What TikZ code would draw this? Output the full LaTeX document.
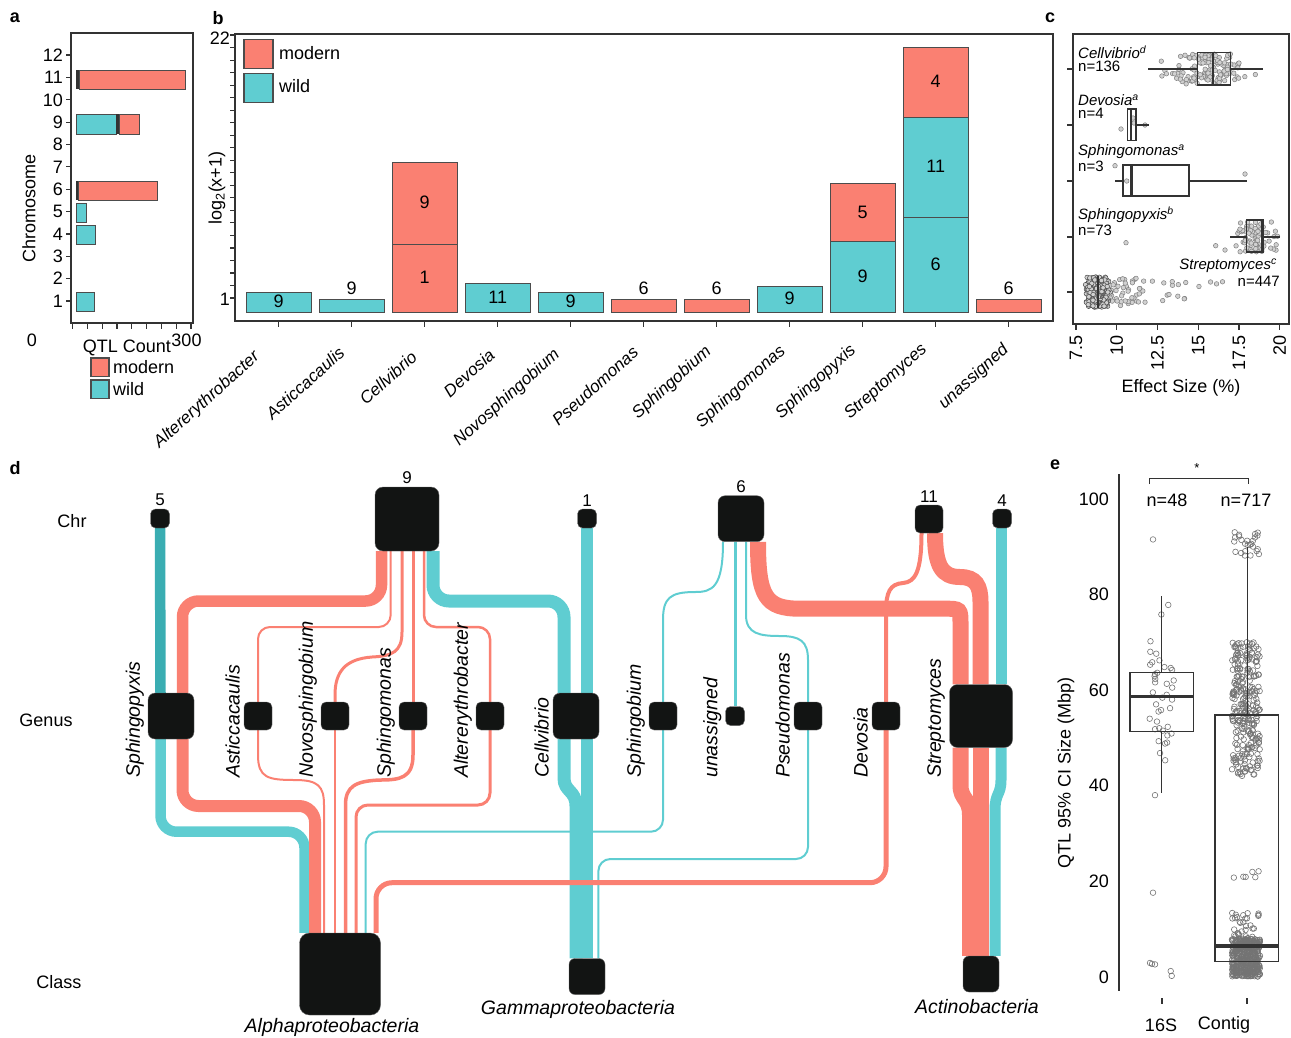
\documentclass[tikz,border=0pt]{standalone}
\usepackage{fontspec}
\setmainfont{Liberation Sans}
\usetikzlibrary{positioning}

\definecolor{modern}{HTML}{FA8072}
\definecolor{wild}{HTML}{5FCDD1}
\definecolor{wilddark}{HTML}{3AADB2}
\definecolor{nodeblk}{HTML}{121413}
\definecolor{axgrey}{HTML}{333333}

\pgfdeclarelayer{flows}
\pgfsetlayers{flows,main}

\tikzset{
  every node/.style={inner sep=0pt, font=\fontsize{18}{21}\selectfont},
  panel/.style={font=\fontsize{18}{21}\selectfont\bfseries},
  axframe/.style={draw=axgrey, line width=1.6pt},
  axtick/.style={draw=axgrey, line width=1.2pt},
  modernbar/.style={fill=modern, draw=black!70, line width=0.8pt},
  wildbar/.style={fill=wild, draw=black!70, line width=0.8pt},
  taxon/.style={fill=nodeblk, draw=black!60, line width=0.4pt, rounded corners=5pt, minimum size=#1},
  mflow/.style={draw=modern, line width=#1, rounded corners=16pt},
  wflow/.style={draw=wild, line width=#1, rounded corners=16pt},
  genus/.style={rotate=90, anchor=south west, font=\fontsize{19.5}{22}\selectfont\itshape},
  taxlbl/.style={font=\fontsize{19.5}{22}\selectfont\itshape},
  chrlbl/.style={font=\fontsize{17}{20}\selectfont},
  barlbl/.style={rotate=42, font=\fontsize{17}{20}\selectfont\itshape},
  clbl/.style={font=\fontsize{15}{17}\selectfont},
  cdot/.style={draw=black!50, fill=black!18, line width=0.5pt},
  edot/.style={draw=black!55, line width=0.6pt},
  cbox/.style={draw=axgrey, line width=1.3pt},
}

\begin{document}
\begin{tikzpicture}[x=1pt, y=-1pt]
\useasboundingbox (0,0) rectangle (1291,1037);

%% a: QTL count per chromosome
\node[panel] (pa) at (15,18) {a};
\draw[modernbar] (79,70) rectangle (185,89);
\fill[black!80] (76,70) rectangle (79,89);
\draw[wildbar] (76,114) rectangle (116,134);
\fill[black!80] (116,114) rectangle (119,134);
\draw[modernbar] (119,114) rectangle (139,134);
\fill[black!80] (76,181) rectangle (78,200);
\draw[modernbar] (78,181) rectangle (157,200);
\draw[wildbar] (76,203) rectangle (86,222);
\draw[wildbar] (76,225) rectangle (95,244);
\draw[wildbar] (76,292) rectangle (94,311);
\draw[axframe] (71,33) rectangle (193,323);
\foreach \c in {1,...,12} {
  \draw[axtick] (66,{323.4-22.36*\c}) -- (71,{323.4-22.36*\c});
  \node[anchor=east] (ya\c) at (63,{323.4-22.36*\c}) {\c};
}
\foreach \i in {0,...,8}
  \draw[axtick] ({72.5+14.8*\i},323) -- ({72.5+14.8*\i},329);
\node (xa0) at (32,340) {0};
\node (xa300) at (186.5,340) {300};
\node[rotate=90] (ylaba) at (29,208) {Chromosome};
\node (xlaba) at (127,348) {QTL Count};
\draw[modernbar, line width=1.2pt] (91,358) rectangle (109,376.5);
\node[anchor=west] (lgam) at (113,367.5) {modern};
\draw[wildbar, line width=1.2pt] (91,380) rectangle (109,398.5);
\node[anchor=west] (lgaw) at (113,389.5) {wild};

%% b: QTL per genus
\node[panel] (pb) at (218,18) {b};
\foreach \i/\ya/\yb/\s in {0/292/312/wildbar, 1/299/312/wildbar, 2/244/312/modernbar, 2/162/244/modernbar,
    3/283/312/wildbar, 4/292/312/wildbar, 5/299/312/modernbar, 6/299/312/modernbar, 7/286.7/312/wildbar,
    8/241/312/wildbar, 8/183/241/modernbar, 9/217/312/wildbar, 9/117/217/wildbar, 9/47/117/modernbar,
    10/299/312/modernbar}
  \draw[\s] ({246+73*\i},\ya) rectangle ({311.5+73*\i},\yb);
\foreach \i/\y/\t in {0/301/9, 1/288/9, 2/277/1, 2/202/9, 3/297/11, 4/301/9, 5/288/6, 6/288/6,
    7/298/9, 8/276/9, 8/212/5, 9/264/6, 9/166/11, 9/81/4, 10/288/6}
  \node (bv\i-\y) at ({278.7+73*\i},\y) {\t};
\draw[axframe] (235,34) rectangle (1053,321);
\foreach \v in {1,...,22}
  \draw[axtick] (230,{310.5-12.52*\v}) -- (235,{310.5-12.52*\v});
\foreach \i in {0,...,10}
  \draw[axtick] ({278.7+73*\i},321) -- ({278.7+73*\i},327);
\node[anchor=east] (yb22) at (230,38) {22};
\node[anchor=east] (yb1) at (230,299) {1};
\node[rotate=90] (ylabb) at (217,188) {log\textsubscript{2}(x+1)};
\draw[modernbar, line width=1.2pt] (244,39.5) rectangle (273,68.5);
\node[anchor=west] (lgbm) at (279,53) {modern};
\draw[wildbar, line width=1.2pt] (244,73.5) rectangle (273,102.5);
\node[anchor=west] (lgbw) at (279,86) {wild};
\foreach \g/\cx/\cy [count=\k] in {Altererythrobacter/207/400, Asticcacaulis/305/383, Cellvibrio/388/378,
    Devosia/469/373, Novosphingobium/507/398, Pseudomonas/595/386, Sphingobium/672/383,
    Sphingomonas/741/387, Sphingopyxis/816/382, Streptomyces/886/382, unassigned/974/377}
  \node[barlbl] (bx\k) at (\cx,\cy) {\g};

%% c: effect size per genus
\node[panel] (pc) at (1050,18) {c};
\pgfmathsetseed{11}
\foreach \k in {1,...,136} {
  \pgfmathsetmacro\px{1207+18*(rand+rand+rand)}
  \pgfmathsetmacro\py{69+15*rand}
  \draw[cdot] (\px,\py) circle (2.3pt);
}
\foreach \px/\py in {1121/129, 1133/118, 1134/123, 1145/125, 1115/165.7, 1126.7/181, 1245/174,
    1126/242.7, 1215.7/245.7, 1225/250}
  \draw[cdot] (\px,\py) circle (2.3pt);
\foreach \k in {1,...,70} {
  \pgfmathsetmacro\px{1256+12.5*(rand+rand)}
  \pgfmathsetmacro\py{237+15*rand}
  \draw[cdot] (\px,\py) circle (2.3pt);
}
\foreach \k in {1,...,62} {
  \pgfmathsetmacro\px{1110+140*rnd*rnd}
  \pgfmathsetmacro\py{292+14*rand}
  \draw[cdot] (\px,\py) circle (2.3pt);
}
\foreach \k in {1,...,385} {
  \pgfmathsetmacro\px{1097+5*(rand+rand)+5*rand}
  \pgfmathsetmacro\py{292+15*rand}
  \draw[cdot, draw=black!70] (\px,\py) circle (2.3pt);
}
\draw[cbox] (1148,69) -- (1197.7,69) (1230.7,69) -- (1262.7,69);
\draw[cbox] (1197.7,52.7) rectangle (1230.7,85);
\draw[axgrey, line width=2.6pt] (1213,52.7) -- (1213,85);
\draw[cbox] (1127.7,109) rectangle (1136,140.7) (1136,125) -- (1148.7,125);
\draw[axgrey, line width=2.6pt] (1131,109) -- (1131,140.7);
\draw[cbox] (1115,181) -- (1123,181) (1189,181) -- (1246.7,181);
\draw[cbox] (1123,165) rectangle (1189,196);
\draw[axgrey, line width=2.6pt] (1131.7,165) -- (1131.7,196);
\draw[cbox] (1230,237) -- (1246.7,237) (1263,237) -- (1280,237);
\draw[cbox] (1246.7,220) rectangle (1263,252);
\draw[axgrey, line width=2.6pt] (1262,220) -- (1262,252);
\draw[axgrey, line width=2.6pt] (1098,276) -- (1098,308);
\draw[axframe] (1073,34) rectangle (1289,324);
\foreach \y in {69,125,181,237,292}
  \draw[axtick] (1067,\y) -- (1073,\y);
\foreach \v/\t [count=\k] in {7.5/7.5, 10/10, 12.5/12.5, 15/15, 17.5/17.5, 20/20} {
  \draw[axtick] ({1076+16.3*(\v-7.5)},324) -- ({1076+16.3*(\v-7.5)},330);
  \node[rotate=90, anchor=east] (cx\k) at ({1076+16.3*(\v-7.5)},335) {\t};
}
\node (xlabc) at (1181,388) {Effect Size (\%)};
\node[clbl, anchor=west] (cCel) at (1078,52) {\textit{Cellvibrio}\textsuperscript{\textit{d}}};
\node[clbl, anchor=west] (nCel) at (1078,66.5) {n=136};
\node[clbl, anchor=west] (cDev) at (1078,100) {\textit{Devosia}\textsuperscript{\textit{a}}};
\node[clbl, anchor=west] (nDev) at (1078,113.5) {n=4};
\node[clbl, anchor=west] (cSpm) at (1078,152) {\textit{Sphingomonas}\textsuperscript{\textit{a}}};
\node[clbl, anchor=west] (nSpm) at (1078,166.5) {n=3};
\node[clbl, anchor=west] (cSpx) at (1078,215) {\textit{Sphingopyxis}\textsuperscript{\textit{b}}};
\node[clbl, anchor=west] (nSpx) at (1078,230.5) {n=73};
\node[clbl, anchor=east] (cStr) at (1277,266) {\textit{Streptomyces}\textsuperscript{\textit{c}}};
\node[clbl, anchor=east] (nStr) at (1280,281.5) {n=447};

%% d: chromosome -> genus -> class
\node[panel] (pd) at (15,468) {d};
\node (dchr) at (72,521) {Chr};
\node (dgen) at (46,720) {Genus};
\node (dcls) at (59,982) {Class};
% chromosomes
\node[taxon=19pt] (chr5) at (160,518.5) {};
\node[taxon=64pt, rounded corners=8pt] (chr9) at (407,519) {};
\node[taxon=19pt] (chr1) at (587,518.5) {};
\node[taxon=46pt, rounded corners=7pt] (chr6) at (741,518.7) {};
\node[taxon=28pt] (chr11) at (929,519) {};
\node[taxon=19pt] (chr4) at (1002,518.5) {};
\foreach \c in {5,9,1,6,11,4}
  \node[chrlbl, above=2.5pt of chr\c] (n\c) {\c};
% genera
\node[taxon=46pt, rounded corners=7pt] (gSpx) at (171,716) {};
\node[taxon=28pt] (gAst) at (258,716) {};
\node[taxon=28pt] (gNov) at (335,716) {};
\node[taxon=28pt] (gSpm) at (413,716) {};
\node[taxon=28pt] (gAlt) at (490,716) {};
\node[taxon=46pt, rounded corners=7pt] (gCel) at (576,716) {};
\node[taxon=28pt] (gSpb) at (663,716) {};
\node[taxon=19pt] (gUna) at (735,716) {};
\node[taxon=28pt] (gPse) at (808,716) {};
\node[taxon=28pt] (gDev) at (886,716) {};
\node[taxon=63pt, rounded corners=8pt] (gStr) at (981,716) {};
\foreach \g/\gx in {Sphingopyxis/144, Asticcacaulis/240, Novosphingobium/317, Sphingomonas/395,
    Altererythrobacter/472, Cellvibrio/549, Sphingobium/645, unassigned/721.5, Pseudomonas/790,
    Devosia/868, Streptomyces/945}
  \node[genus] (t\g) at (\gx,778) {\g};
% classes
\node[taxon=81pt, minimum height=82pt, rounded corners=10pt] (cAlp) at (340,974) {};
\node[taxon=36pt, rounded corners=6pt] (cGam) at (587,976.5) {};
\node[taxon=36pt, rounded corners=6pt] (cAct) at (981,974) {};
\node[taxlbl] (lAlp) at (332,1027) {Alphaproteobacteria};
\node[taxlbl] (lGam) at (578,1009) {Gammaproteobacteria};
\node[taxlbl] (lAct) at (977,1007) {Actinobacteria};

\begin{pgfonlayer}{flows}
% chromosome to genus
\draw[wflow=10.5pt, draw=wilddark] (chr5.south) -- ([xshift=-10.5pt]gSpx.north);
\draw[mflow=11.5pt] ([xshift=-25.5pt]chr9.south) |- (182.5,601) -- ([xshift=11.5pt]gSpx.north);
\draw[mflow=2pt, rounded corners=12pt] ([xshift=-16.3pt]chr9.south) |- (258,627) -- (gAst.north);
\draw[mflow=3pt, sharp corners] ([xshift=-5pt]chr9.south) -- (402,632) .. controls (402,652) and (392,656) .. (372,657)
  .. controls (345,659) and (335,672) .. (335,695) -- (gNov.north);
\draw[mflow=3pt] ([xshift=6pt]chr9.south) -- (gSpm.north);
\draw[mflow=2.5pt, rounded corners=12pt] ([xshift=17pt]chr9.south) |- (490,627) -- (gAlt.north);
\draw[wflow=13pt] ([xshift=26pt]chr9.south) |- (564,601) -- ([xshift=-12pt]gCel.north);
\draw[wflow=12pt] ([xshift=-0.5pt]chr1.south) -- ([xshift=10.5pt]gCel.north);
\draw[wflow=2pt, sharp corners] ([xshift=-18pt]chr6.south) .. controls (723,588) and (712,592) .. (695,592)
  .. controls (670,592) and (663,598) .. (663,620) -- (gSpb.north);
\draw[wflow=3pt] ([xshift=-6pt]chr6.south) -- (gUna.north);
\draw[wflow=2pt, sharp corners] ([xshift=5pt]chr6.south) -- (746,615) .. controls (746,634) and (760,636) .. (780,636)
  .. controls (800,636) and (808,641) .. (808,660) -- (gPse.north);
\draw[mflow=16pt, sharp corners] ([xshift=17pt]chr6.south) .. controls (758,596) and (765,608.7) .. (800,608.7)
  -- (944.5,608.7) .. controls (960.5,608.7) .. (960.5,624.7) -- ([xshift=-20.5pt]gStr.north);
\draw[mflow=4pt, sharp corners] ([xshift=-7.5pt]chr11.south) .. controls (921.5,572) and (915,582) .. (903,583)
  .. controls (890,584) and (886,592) .. (886,612) -- (gDev.north);
\draw[mflow=16pt, sharp corners] ([xshift=6pt]chr11.south) .. controls (935,566) and (942,577) .. (960,577)
  .. controls (976,577) and (980.5,586) .. (980.5,602) -- ([xshift=-0.5pt]gStr.north);
\draw[wflow=11pt] ([xshift=-1pt]chr4.south) -- ([xshift=20pt]gStr.north);
% genus to class
\draw[wflow=10.5pt] ([xshift=-10.5pt]gSpx.south) |- (304.5,831.7) -- ([xshift=-35.5pt]cAlp.north);
\draw[mflow=12pt] ([xshift=11.5pt]gSpx.south) |- (315,806) -- ([xshift=-25pt]cAlp.north);
\draw[mflow=2pt, sharp corners] (gAst.south) -- (258,755) .. controls (258,778) and (268,780) .. (295,780)
  .. controls (318,780) and (324,786) .. (324,805) -- ([xshift=-16pt]cAlp.north);
\draw[mflow=2.5pt] (gNov.south) -- ([xshift=-5pt]cAlp.north);
\draw[mflow=3.5pt, sharp corners] (gSpm.south) -- (413,755) .. controls (413,778) and (400,780) .. (380,780)
  .. controls (356,781) and (345.5,786) .. (345.5,805) -- ([xshift=5.5pt]cAlp.north);
\draw[mflow=3pt, rounded corners=12pt] (gAlt.south) |- (356,805) -- ([xshift=16pt]cAlp.north);
\draw[wflow=2pt, rounded corners=12pt] (gSpb.south) |- (365.7,831.7) -- ([xshift=25.7pt]cAlp.north);
\draw[wflow=13pt, sharp corners] ([xshift=-12pt]gCel.south) -- (564,778) .. controls (564,792) and (576,790) .. (576,806)
  -- ([xshift=-11pt]cGam.north);
\draw[wflow=12pt] ([xshift=10.5pt]gCel.south) -- ([xshift=-0.5pt]cGam.north);
\draw[wflow=2pt, rounded corners=12pt] (gPse.south) |- (598.4,859) -- ([xshift=11.4pt]cGam.north);
\draw[mflow=5pt] (gDev.south) |- (376,882.7) -- ([xshift=36pt]cAlp.north);
\draw[mflow=16pt, sharp corners] ([xshift=-20.5pt]gStr.south) -- (960.5,785) .. controls (960.5,800) and (970,798) .. (970,815)
  -- ([xshift=-11pt]cAct.north);
\draw[mflow=16pt] ([xshift=-0.5pt]gStr.south) -- ([xshift=-0.5pt]cAct.north);
\draw[wflow=11pt, sharp corners] ([xshift=20pt]gStr.south) -- (1001,780) .. controls (1001,795) and (995,793) .. (995,810)
  -- ([xshift=14pt]cAct.north);
\end{pgfonlayer}

%% e: QTL interval size
\node[panel] (pe) at (1055,465) {e};
\pgfmathsetseed{5}
\foreach \v in {77.8,75.8,70.2,68,67.6,66.2,65.8,65.3,64.8,64.6,64.2,63.6,63.3,62.9,62.3,62,61.6,61.3,
    60.5,59.5,59,58.4,58,57,56.2,55.8,55.5,54,53.4,52.3,52,51.8,51.5,50.9,50.5,49.3,49,48.8,46.8,45.3} {
  \pgfmathsetmacro\ex{1162+13*rand}
  \draw[edot] (\ex,{976.8-4.78*\v}) circle (2.8pt);
}
\foreach \ex/\v in {1153/91.5, 1155/38, 1153/17.6, 1150/2.9, 1152/2.7, 1155/2.6, 1170.7/1.2, 1171.7/0.2}
  \draw[edot] (\ex,{976.8-4.78*\v}) circle (2.8pt);
\foreach \n/\lo/\span in {25/87.5/5.5, 270/42/28, 6/19/4, 30/8/6, 386/0/8} {
  \foreach \k in {1,...,\n} {
    \pgfmathsetmacro\ex{1246+14*rand}
    \pgfmathsetmacro\ey{976.8-4.78*(\lo+\span*rnd)}
    \draw[edot] (\ex,\ey) circle (2.8pt);
  }
}
\draw[cbox] (1130,672.8) rectangle (1193.3,731.5);
\draw[axgrey, line width=3.5pt] (1130,696.3) -- (1193.3,696.3);
\draw[cbox] (1161.7,596) -- (1161.7,672.8) (1161.7,731.5) -- (1161.7,792.6);
\draw[cbox] (1215,715) rectangle (1278.3,961.8);
\draw[axgrey, line width=3.5pt] (1215,946) -- (1278.3,946);
\draw[cbox] (1247.3,546.6) -- (1247.3,715);
\draw[axframe] (1119,474) -- (1119,991);
\foreach \v in {0,20,40,60,80,100}
  \node[anchor=east] (ey\v) at (1109,{976.8-4.78*\v}) {\v};
\node[rotate=90] (ylabe) at (1066,773) {QTL 95\% CI Size (Mbp)};
\draw[axtick, line width=0.8pt] (1149,484) -- (1149,478) -- (1248,478) -- (1248,484);
\node[font=\fontsize{13}{15}\selectfont] (estar) at (1197,468) {*};
\node (en48) at (1167,500) {n=48};
\node (en717) at (1246,500) {n=717};
\draw[axtick] (1162,998) -- (1162,1004) (1247,998) -- (1247,1004);
\node (ex16) at (1161,1025) {16S};
\node (excon) at (1224,1025) {Contig};
\end{tikzpicture}
\end{document}
